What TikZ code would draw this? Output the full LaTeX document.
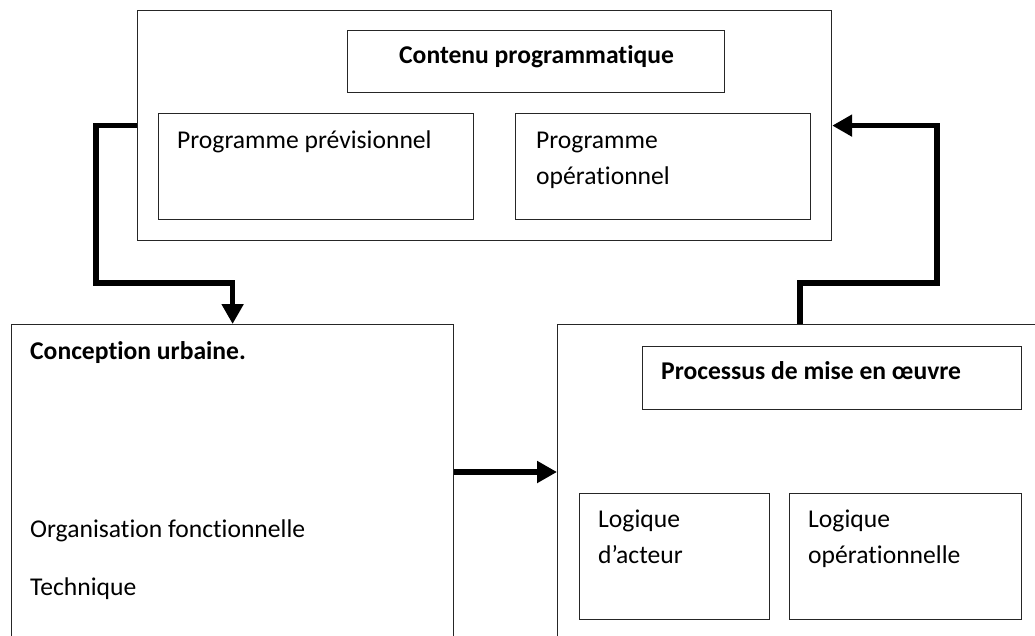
\documentclass[tikz,border=0pt]{standalone}
\usepackage{fontspec}
\setmainfont[Ligatures=NoCommon]{Carlito}
\usetikzlibrary{arrows.meta}
\begin{document}
\begin{tikzpicture}[x=1pt,y=-1pt,
  box/.style={draw=black!85, line width=1.2pt, rectangle, inner sep=0pt, anchor=north west},
  lbl/.style={anchor=base west, inner sep=0pt, font=\fontsize{25.6}{30}\selectfont},
  blbl/.style={lbl, font=\fontsize{25.6}{30}\selectfont\bfseries},
  conn/.style={line width=5.6pt, line join=miter, -{Triangle[length=20pt,width=21pt]}}]
\useasboundingbox (0,0) rectangle (1035,635);
\fill[white] (0,0) rectangle (1035,635);
\begin{scope}
\clip (0,0) rectangle (1035,635);
% top group
\node[box, minimum width=694pt, minimum height=230pt] (top) at (137,10) {};
\node[box, minimum width=377pt, minimum height=62pt] (contenu) at (347,30) {};
\node[box, minimum width=315pt, minimum height=106pt] (prev) at (158,113) {};
\node[box, minimum width=295pt, minimum height=106pt] (oper) at (515,113) {};
\node[blbl] (tcontenu) at (399,63) {Contenu programmatique};
\node[lbl] (tprev) at (177,148) {Programme prévisionnel};
\node[lbl] (toper1) at (536,148) {Programme};
\node[lbl] (toper2) at (536,184) {opérationnel};
% left box
\node[box, minimum width=442pt, minimum height=330pt] (conc) at (11,324) {};
\node[blbl] (tconc) at (30,359) {Conception urbaine.};
\node[lbl] (torg) at (30,537) {Organisation fonctionnelle};
\node[lbl] (ttech) at (30,595) {Technique};
% right box
\node[box, minimum width=500pt, minimum height=330pt] (mise) at (557,324) {};
\node[box, minimum width=379pt, minimum height=63pt] (proc) at (642,346) {};
\node[box, minimum width=190pt, minimum height=126pt] (acteur) at (579,493) {};
\node[box, minimum width=232pt, minimum height=126pt] (logop) at (789,493) {};
\node[blbl] (tproc) at (661,379) {Processus de mise en œuvre};
\node[lbl] (tact1) at (598,527) {Logique};
\node[lbl] (tact2) at (598,563) {d’acteur};
\node[lbl] (tlog1) at (808,527) {Logique};
\node[lbl] (tlog2) at (808,563) {opérationnelle};
\end{scope}
% connectors
\coordinate (lturn) at (96,283);
\coordinate (mid) at (0,472);
\coordinate (rstart) at (800,324);
\coordinate (rturn) at (937,283);
\draw[conn] (top.west) -| (lturn) -| (conc.north);
\draw[conn] (conc.east |- mid) -- (mise.west |- mid);
\draw[conn] (rstart) |- (rturn) |- (top.east);
\end{tikzpicture}
\end{document}
